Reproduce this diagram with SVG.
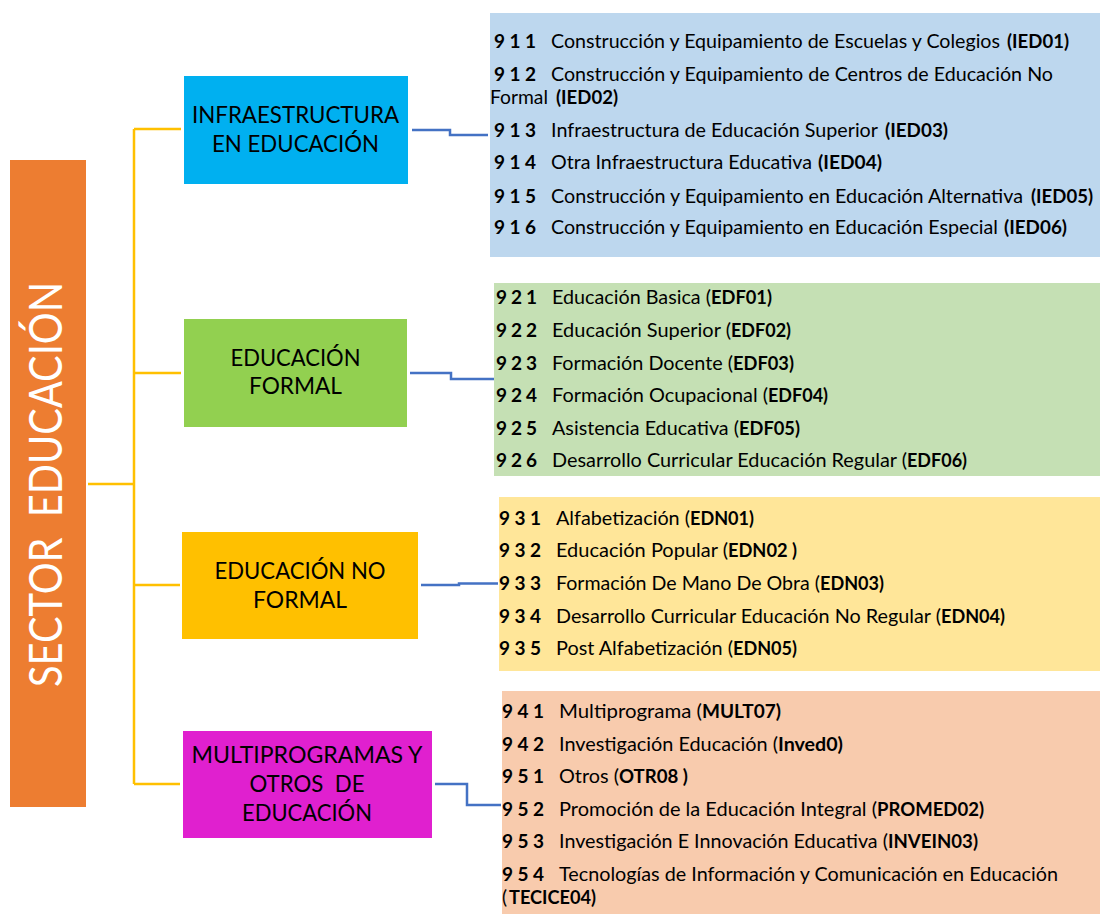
<svg xmlns="http://www.w3.org/2000/svg" width="1100" height="914" viewBox="0 0 1100 914">
<style>
text{font-family:Lato,Carlito,"Liberation Sans",sans-serif;fill:#000}
.it{font-size:19px}
.num,.b{font-size:19px;font-weight:bold}
.box{font-size:23px;text-anchor:middle}
.yl{stroke:#FFC000;stroke-width:2.5;fill:none}
.bl{stroke:#4472C4;stroke-width:2.5;fill:none}
.pre{white-space:pre}
</style>
<rect width="1100" height="914" fill="#fff"/>
<g id="sector">
<rect x="10" y="160" width="76" height="647" fill="#ED7D31"/>
<text class="pre" transform="translate(62,484.5) rotate(-90)" text-anchor="middle" font-size="46" style="fill:#fff" textLength="405" lengthAdjust="spacingAndGlyphs">SECTOR  EDUCACIÓN</text>
</g>
<g id="connectors">
<path class="yl" d="M88,484 H134 M134,129 V784 M134,129 H181 M134,373 H181 M134,585 H180 M134,784 H180"/>
<path class="bl" d="M412,130 H450 V135 H488"/>
<path class="bl" d="M410,373 H451 V379 H494"/>
<path class="bl" d="M421,585 H459 V583.5 H498"/>
<path class="bl" d="M435,784 H467 V805 H501"/>
</g>
<g id="infraestructura">
<rect x="184" y="76" width="224" height="108" fill="#00B0F0"/>
<text class="box" x="295.5" y="123" textLength="207" lengthAdjust="spacingAndGlyphs">INFRAESTRUCTURA</text>
<text class="box" x="295.5" y="152" textLength="167" lengthAdjust="spacingAndGlyphs">EN EDUCACIÓN</text>
</g>
<g id="formal">
<rect x="184" y="319" width="223" height="108" fill="#92D050"/>
<text class="box" x="295.5" y="366" textLength="130" lengthAdjust="spacingAndGlyphs">EDUCACIÓN</text>
<text class="box" x="295.5" y="394" textLength="93" lengthAdjust="spacingAndGlyphs">FORMAL</text>
</g>
<g id="noformal">
<rect x="182" y="532" width="236" height="107" fill="#FFC000"/>
<text class="box" x="300" y="579" textLength="171" lengthAdjust="spacingAndGlyphs">EDUCACIÓN NO</text>
<text class="box" x="300" y="608" textLength="94" lengthAdjust="spacingAndGlyphs">FORMAL</text>
</g>
<g id="multiprogramas">
<rect x="183" y="731" width="249" height="107" fill="#E020CF"/>
<text class="box" x="307" y="763" textLength="231" lengthAdjust="spacingAndGlyphs">MULTIPROGRAMAS Y</text>
<text class="box pre" x="307" y="792" textLength="115" lengthAdjust="spacingAndGlyphs">OTROS  DE</text>
<text class="box" x="307" y="821" textLength="130" lengthAdjust="spacingAndGlyphs">EDUCACIÓN</text>
</g>
<g id="panel-infraestructura">
<rect x="490" y="13" width="610" height="244" fill="#BDD7EE"/>
<text class="num" x="494" y="48" textLength="42">9 1 1</text>
<text class="it" x="551" y="48" textLength="449" lengthAdjust="spacingAndGlyphs">Construcción y Equipamiento de Escuelas y Colegios</text>
<text class="b" x="1007" y="48" textLength="62" lengthAdjust="spacingAndGlyphs">(IED01)</text>
<text class="num" x="494" y="81" textLength="42">9 1 2</text>
<text class="it" x="551" y="81" textLength="502" lengthAdjust="spacingAndGlyphs">Construcción y Equipamiento de Centros de Educación No</text>
<text class="it" x="490" y="104" textLength="58" lengthAdjust="spacingAndGlyphs">Formal</text>
<text class="b" x="556" y="104" textLength="62" lengthAdjust="spacingAndGlyphs">(IED02)</text>
<text class="num" x="494" y="137" textLength="42">9 1 3</text>
<text class="it" x="551" y="137" textLength="327" lengthAdjust="spacingAndGlyphs">Infraestructura de Educación Superior</text>
<text class="b" x="885" y="137" textLength="63" lengthAdjust="spacingAndGlyphs">(IED03)</text>
<text class="num" x="494" y="169" textLength="42">9 1 4</text>
<text class="it" x="551" y="169" textLength="261" lengthAdjust="spacingAndGlyphs">Otra Infraestructura Educativa</text>
<text class="b" x="818" y="169" textLength="64" lengthAdjust="spacingAndGlyphs">(IED04)</text>
<text class="num" x="494" y="203" textLength="42">9 1 5</text>
<text class="it" x="551" y="203" textLength="472" lengthAdjust="spacingAndGlyphs">Construcción y Equipamiento en Educación Alternativa</text>
<text class="b" x="1031" y="203" textLength="62" lengthAdjust="spacingAndGlyphs">(IED05)</text>
<text class="num" x="494" y="234" textLength="42">9 1 6</text>
<text class="it" x="551" y="234" textLength="447" lengthAdjust="spacingAndGlyphs">Construcción y Equipamiento en Educación Especial</text>
<text class="b" x="1004" y="234" textLength="63" lengthAdjust="spacingAndGlyphs">(IED06)</text>
</g>
<g id="panel-formal">
<rect x="494" y="283" width="606" height="193" fill="#C5E0B4"/>
<text class="num" x="496" y="304" textLength="41">9 2 1</text>
<text class="it" x="552" y="304" textLength="159" lengthAdjust="spacingAndGlyphs">Educación Basica (</text>
<text class="b" x="711" y="304" textLength="61" lengthAdjust="spacingAndGlyphs">EDF01)</text>
<text class="num" x="496" y="337" textLength="41">9 2 2</text>
<text class="it" x="552" y="337" textLength="179" lengthAdjust="spacingAndGlyphs">Educación Superior (</text>
<text class="b" x="731" y="337" textLength="60" lengthAdjust="spacingAndGlyphs">EDF02)</text>
<text class="num" x="496" y="370" textLength="41">9 2 3</text>
<text class="it" x="552" y="370" textLength="181" lengthAdjust="spacingAndGlyphs">Formación Docente (</text>
<text class="b" x="733" y="370" textLength="61" lengthAdjust="spacingAndGlyphs">EDF03)</text>
<text class="num" x="496" y="402" textLength="41">9 2 4</text>
<text class="it" x="552" y="402" textLength="216" lengthAdjust="spacingAndGlyphs">Formación Ocupacional (</text>
<text class="b" x="768" y="402" textLength="60" lengthAdjust="spacingAndGlyphs">EDF04)</text>
<text class="num" x="496" y="435" textLength="41">9 2 5</text>
<text class="it" x="552" y="435" textLength="187" lengthAdjust="spacingAndGlyphs">Asistencia Educativa (</text>
<text class="b" x="739" y="435" textLength="61" lengthAdjust="spacingAndGlyphs">EDF05)</text>
<text class="num" x="496" y="467" textLength="41">9 2 6</text>
<text class="it" x="552" y="467" textLength="355" lengthAdjust="spacingAndGlyphs">Desarrollo Curricular Educación Regular (</text>
<text class="b" x="907" y="467" textLength="60" lengthAdjust="spacingAndGlyphs">EDF06)</text>
</g>
<g id="panel-noformal">
<rect x="499" y="497" width="601" height="174" fill="#FFE699"/>
<text class="num" x="499" y="525" textLength="42">9 3 1</text>
<text class="it" x="556" y="525" textLength="134" lengthAdjust="spacingAndGlyphs">Alfabetización (</text>
<text class="b" x="690" y="525" textLength="64" lengthAdjust="spacingAndGlyphs">EDN01)</text>
<text class="num" x="499" y="557" textLength="42">9 3 2</text>
<text class="it" x="556" y="557" textLength="172" lengthAdjust="spacingAndGlyphs">Educación Popular (</text>
<text class="b pre" x="728" y="557" textLength="69" lengthAdjust="spacingAndGlyphs">EDN02 )</text>
<text class="num" x="499" y="590" textLength="42">9 3 3</text>
<text class="it" x="556" y="590" textLength="264" lengthAdjust="spacingAndGlyphs">Formación De Mano De Obra (</text>
<text class="b" x="820" y="590" textLength="64" lengthAdjust="spacingAndGlyphs">EDN03)</text>
<text class="num" x="499" y="623" textLength="42">9 3 4</text>
<text class="it" x="556" y="623" textLength="385" lengthAdjust="spacingAndGlyphs">Desarrollo Curricular Educación No Regular (</text>
<text class="b" x="941" y="623" textLength="64" lengthAdjust="spacingAndGlyphs">EDN04)</text>
<text class="num" x="499" y="655" textLength="42">9 3 5</text>
<text class="it" x="556" y="655" textLength="177" lengthAdjust="spacingAndGlyphs">Post Alfabetización (</text>
<text class="b" x="733" y="655" textLength="64" lengthAdjust="spacingAndGlyphs">EDN05)</text>
</g>
<g id="panel-multiprogramas">
<rect x="502" y="691" width="598" height="223" fill="#F8CBAD"/>
<text class="num" x="502" y="718" textLength="42">9 4 1</text>
<text class="it" x="559" y="718" textLength="143" lengthAdjust="spacingAndGlyphs">Multiprograma (</text>
<text class="b" x="702" y="718" textLength="79" lengthAdjust="spacingAndGlyphs">MULT07)</text>
<text class="num" x="502" y="751" textLength="42">9 4 2</text>
<text class="it" x="559" y="751" textLength="219" lengthAdjust="spacingAndGlyphs">Investigación Educación (</text>
<text class="b" x="778" y="751" textLength="65" lengthAdjust="spacingAndGlyphs">Inved0)</text>
<text class="num" x="502" y="783" textLength="42">9 5 1</text>
<text class="it" x="559" y="783" textLength="60" lengthAdjust="spacingAndGlyphs">Otros (</text>
<text class="b pre" x="619" y="783" textLength="69" lengthAdjust="spacingAndGlyphs">OTR08 )</text>
<text class="num" x="502" y="816" textLength="42">9 5 2</text>
<text class="it" x="559" y="816" textLength="318" lengthAdjust="spacingAndGlyphs">Promoción de la Educación Integral (</text>
<text class="b" x="877" y="816" textLength="107" lengthAdjust="spacingAndGlyphs">PROMED02)</text>
<text class="num" x="502" y="848" textLength="42">9 5 3</text>
<text class="it" x="559" y="848" textLength="329" lengthAdjust="spacingAndGlyphs">Investigación E Innovación Educativa (</text>
<text class="b" x="888" y="848" textLength="90" lengthAdjust="spacingAndGlyphs">INVEIN03)</text>
<text class="num" x="502" y="881" textLength="42">9 5 4</text>
<text class="it" x="559" y="881" textLength="499" lengthAdjust="spacingAndGlyphs">Tecnologías de Información y Comunicación en Educación</text>
<text class="it" x="502" y="904">(</text>
<text class="b" x="509" y="904" textLength="87" lengthAdjust="spacingAndGlyphs">TECICE04)</text>
</g>
</svg>
